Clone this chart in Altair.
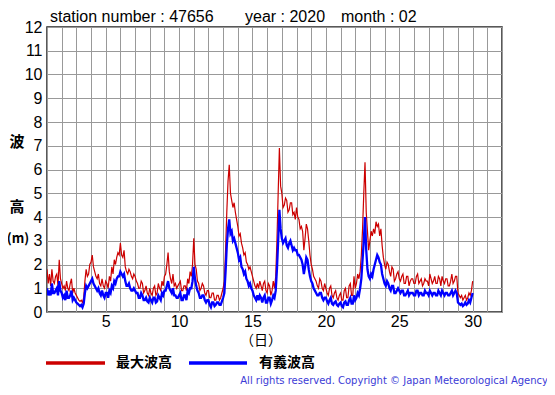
import altair as alt
import pandas as pd

# ---- data (2-hourly readings, day 1 00h .. day 30 00h) ----
steps_per_day = 12
first_day = 1

max_wave = [
    1.8, 1.2, 1.6, 1.1, 1.8, 1.3, 1.2, 1.5, 1.6, 1.1, 2.2, 1.4,
    1.2, 1.0, 1.1, 0.9, 1.3, 1.0, 0.9, 1.2, 1.4, 0.8, 1.0, 0.8,
    0.7, 0.6, 0.5, 0.45, 0.5, 0.4, 0.6, 1.3, 1.8, 1.5, 1.6, 2.0,
    2.1, 2.4, 1.9, 1.7, 1.5, 1.4, 1.6, 1.2, 1.1, 1.4, 1.1, 1.0,
    1.3, 1.2, 1.0, 1.5, 1.3, 1.9, 1.6, 2.2, 2.0, 2.3, 2.5, 2.4,
    2.9, 2.4, 2.3, 2.6, 1.9, 1.7, 1.6, 1.8, 1.7, 1.5, 1.4, 1.6,
    1.5, 1.3, 1.2, 1.0, 1.0, 1.3, 1.2, 0.8, 0.9, 1.1, 0.8, 0.7,
    1.0, 0.8, 0.7, 1.0, 1.1, 0.7, 0.8, 1.2, 1.0, 0.9, 1.3, 1.1,
    1.5, 1.6, 2.0, 2.5, 1.7, 1.4, 1.2, 1.6, 1.1, 1.2, 1.0, 1.1,
    1.2, 1.3, 0.9, 0.9, 1.1, 1.1, 0.9, 1.4, 1.2, 1.7, 1.5, 2.0,
    3.1, 2.0, 1.8, 1.3, 1.2, 0.9, 1.0, 1.2, 1.1, 0.8, 0.7, 0.9,
    0.9, 0.6, 0.6, 0.8, 0.8, 0.5, 0.5, 0.7, 0.7, 0.5, 0.6, 0.8,
    1.0, 1.3, 2.6, 4.2, 5.5, 6.2, 5.0, 4.7, 4.4, 4.6, 4.2, 3.9,
    3.6, 3.2, 3.3, 2.9, 2.7, 2.4, 2.5, 2.1, 2.0, 1.8, 1.9, 1.7,
    1.5, 1.3, 1.1, 1.0, 1.2, 1.0, 1.3, 1.1, 0.9, 1.2, 1.3, 0.9,
    0.8, 1.2, 1.1, 0.7, 0.9, 1.3, 1.0, 1.5, 3.0, 5.0, 6.9, 5.3,
    5.0, 4.4, 4.5, 4.8, 4.7, 4.2, 4.3, 4.6, 4.6, 4.1, 4.2, 3.9,
    4.4, 4.0, 3.9, 3.5, 3.6, 3.4, 2.6, 3.1, 3.7, 3.5, 3.0, 2.4,
    2.0, 1.8, 1.5, 1.4, 1.3, 1.1, 1.0, 1.4, 1.3, 1.0, 0.9, 1.2,
    1.0, 0.8, 0.7, 1.0, 1.1, 0.7, 0.6, 0.8, 0.9, 0.6, 0.5, 0.7,
    0.8, 0.5, 0.5, 0.9, 1.0, 0.6, 0.6, 1.1, 1.2, 0.7, 0.7, 1.5,
    1.0, 1.2, 1.6, 1.4, 1.7, 2.4, 3.5, 5.0, 6.3, 4.2, 3.4, 2.6,
    3.0, 3.4, 3.2, 3.5, 3.3, 3.8, 3.6, 3.7, 3.2, 3.5, 2.8, 2.3,
    2.0, 1.8, 2.1, 2.0, 1.7, 1.5, 1.9, 1.8, 1.3, 1.4, 1.6, 1.7,
    1.4, 1.3, 1.5, 1.6, 1.2, 1.2, 1.5, 1.5, 1.1, 1.3, 1.4, 1.4,
    1.2, 1.2, 1.5, 1.6, 1.2, 1.3, 1.4, 1.1, 1.2, 1.4, 1.3, 1.3,
    1.1, 1.6, 1.4, 1.2, 1.3, 1.5, 1.2, 1.2, 1.5, 1.4, 1.1, 1.5,
    1.3, 1.2, 1.4, 1.4, 1.1, 1.1, 1.3, 1.6, 1.2, 1.3, 1.5, 1.5,
    0.8, 0.7, 0.6, 0.7, 0.5, 0.6, 0.7, 0.5, 0.6, 0.8, 0.7, 0.9,
    1.3,
]

sig_wave = [
    1.0, 0.7, 0.9, 0.7, 1.2, 0.8, 0.8, 0.9, 1.0, 0.7, 1.3, 0.9,
    0.8, 0.6, 0.7, 0.5, 0.9, 0.6, 0.6, 0.7, 0.9, 0.5, 0.6, 0.5,
    0.4, 0.35, 0.3, 0.25, 0.3, 0.2, 0.35, 0.8, 1.1, 1.0, 1.1, 1.2,
    1.3, 1.4, 1.2, 1.1, 1.0, 0.9, 1.0, 0.8, 0.7, 0.9, 0.7, 0.6,
    0.8, 0.8, 0.6, 0.9, 0.8, 1.1, 1.0, 1.3, 1.2, 1.4, 1.5, 1.5,
    1.7, 1.6, 1.5, 1.6, 1.3, 1.1, 1.1, 1.2, 1.0, 0.9, 0.9, 1.0,
    0.9, 0.8, 0.8, 0.6, 0.6, 0.8, 0.7, 0.5, 0.5, 0.6, 0.45, 0.4,
    0.6, 0.5, 0.4, 0.6, 0.6, 0.4, 0.45, 0.7, 0.6, 0.5, 0.8, 0.7,
    0.9, 0.9, 1.1, 1.3, 1.0, 0.9, 0.8, 1.0, 0.7, 0.7, 0.6, 0.6,
    0.7, 0.8, 0.5, 0.5, 0.7, 0.7, 0.5, 0.9, 0.8, 1.0, 1.0, 1.3,
    1.9, 1.4, 1.1, 0.9, 0.8, 0.6, 0.6, 0.7, 0.7, 0.5, 0.4, 0.5,
    0.5, 0.3, 0.2, 0.4, 0.4, 0.25, 0.3, 0.4, 0.4, 0.3, 0.3, 0.45,
    0.6, 0.8, 1.7, 2.8, 3.5, 3.9, 3.3, 3.4, 3.0, 3.1, 2.9, 2.7,
    2.5, 2.2, 2.3, 1.9, 1.8, 1.6, 1.7, 1.4, 1.3, 1.1, 1.2, 1.0,
    0.9, 0.7, 0.6, 0.5, 0.7, 0.5, 0.7, 0.6, 0.4, 0.6, 0.7, 0.4,
    0.4, 0.6, 0.6, 0.35, 0.5, 0.7, 0.6, 0.9, 1.8, 3.0, 4.3, 3.5,
    3.1, 2.9, 3.0, 3.1, 2.8, 2.7, 2.9, 3.0, 2.8, 2.6, 2.7, 2.6,
    2.6, 2.4, 2.4, 2.3, 2.2, 2.0, 1.6, 1.9, 2.3, 2.2, 1.8, 1.5,
    1.3, 1.2, 1.0, 0.9, 0.8, 0.7, 0.7, 0.8, 0.8, 0.6, 0.5, 0.6,
    0.6, 0.45, 0.35, 0.5, 0.6, 0.35, 0.3, 0.4, 0.45, 0.3, 0.25, 0.35,
    0.4, 0.25, 0.2, 0.4, 0.45, 0.3, 0.3, 0.5, 0.6, 0.35, 0.35, 0.7,
    0.5, 0.6, 0.8, 0.7, 1.0, 1.4, 2.2, 3.0, 4.0, 2.6, 1.8, 1.5,
    1.4, 1.6, 1.5, 1.8, 2.0, 2.2, 2.4, 2.3, 2.1, 2.0, 1.6, 1.4,
    1.2, 1.1, 1.3, 1.2, 1.0, 0.9, 1.1, 1.1, 0.8, 0.8, 0.9, 1.0,
    0.9, 0.8, 0.9, 0.9, 0.7, 0.7, 0.8, 0.9, 0.7, 0.8, 0.8, 0.8,
    0.7, 0.7, 0.9, 0.9, 0.7, 0.8, 0.8, 0.7, 0.7, 0.9, 0.8, 0.8,
    0.7, 0.9, 0.8, 0.7, 0.8, 0.8, 0.7, 0.7, 0.9, 0.8, 0.7, 0.9,
    0.8, 0.7, 0.8, 0.8, 0.7, 0.7, 0.8, 0.9, 0.7, 0.8, 0.9, 0.8,
    0.4, 0.35, 0.3, 0.35, 0.25, 0.3, 0.4, 0.3, 0.35, 0.5, 0.4, 0.6,
    0.8,
]

x_grid_days = list(range(1, 33))
y_grid_vals = list(range(0, 13))

series_names = ["最大波高", "有義波高"]
series_colors = ["#cc0000", "#0000ff"]

title_parts = ["station number : 47656", "year : 2020", "month : 02"]
copyright_text = "All rights reserved. Copyright © Japan Meteorological Agency"

# ---- tables ----
df_max = pd.DataFrame({
    "day": [first_day + i / steps_per_day for i in range(len(max_wave))],
    "h": max_wave,
})
df_sig = pd.DataFrame({
    "day": [first_day + i / steps_per_day for i in range(len(sig_wave))],
    "h": sig_wave,
})

LATIN = "Liberation Sans"
CJK = "Noto Sans CJK JP"

x_enc = alt.X(
    "day:Q",
    scale=alt.Scale(domain=[1, 32], nice=False, zero=False),
    axis=alt.Axis(
        values=x_grid_days,
        labelExpr="datum.value % 5 == 0 ? datum.label : ''",
        grid=True, gridColor="#999999", gridWidth=1,
        ticks=False, domain=False, title=None,
        labelFont=LATIN, labelFontSize=16, labelColor="#000",
        labelPadding=1, labelOverlap=False, labelFlush=False,
    ),
)
y_enc = alt.Y(
    "h:Q",
    scale=alt.Scale(domain=[0, 12], nice=False),
    axis=alt.Axis(
        values=y_grid_vals,
        grid=True, gridColor="#999999", gridWidth=1,
        ticks=False, domain=False, title=None,
        labelFont=LATIN, labelFontSize=16, labelColor="#000",
        labelPadding=5, labelOverlap=False, labelFlush=False,
    ),
)

red_line = alt.Chart(df_max).mark_line(
    color=series_colors[0], strokeWidth=1.2, clip=True
).encode(x=x_enc, y=y_enc)

blue_line = alt.Chart(df_sig).mark_line(
    color=series_colors[1], strokeWidth=2.3, clip=True
).encode(x=x_enc, y=y_enc)

one = alt.Data(values=[{"k": 0}])


def label(text, x, y, font=LATIN, size=16, weight="normal", align="left",
          color="#000"):
    return alt.Chart(one).mark_text(
        font=font, fontSize=size, fontWeight=weight, align=align,
        baseline="middle", color=color,
    ).encode(x=alt.value(x), y=alt.value(y), text=alt.value(text))


def legend_line(x1, x2, y, color):
    return alt.Chart(one).mark_rule(color=color, strokeWidth=3.5).encode(
        x=alt.value(x1), x2=alt.value(x2), y=alt.value(y)
    )


annotations = [
    label(title_parts[0], 3, -10),
    label(title_parts[1], 198, -10),
    label(title_parts[2], 294, -10),
    label("波", -30, 115, font=CJK, size=15, weight="bold", align="center"),
    label("高", -30, 180, font=CJK, size=15, weight="bold", align="center"),
    label("(m)", -29, 212, font=CJK, size=13, weight="bold", align="center"),
    label("（日）", 214, 314, font=CJK, size=14, align="center"),
    legend_line(-1, 58, 336, series_colors[0]),
    label(series_names[0], 69, 336, font=CJK, size=14, weight="bold"),
    legend_line(142, 200, 336, series_colors[1]),
    label(series_names[1], 212, 336, font=CJK, size=14, weight="bold"),
    label(copyright_text, 501, 354, font="DejaVu Sans", size=10,
          align="right", color="#3b3bd6"),
]

chart = alt.layer(red_line, blue_line, *annotations).properties(
    width=455,
    height=285,
    autosize=alt.AutoSizeParams(type="none"),
    padding={"left": 39, "top": 19, "right": 45, "bottom": 75},
    background="white",
).configure_view(
    stroke="#222222", strokeWidth=1.5
).configure_axis(labelOverlap=False)

chart.save("out.html", embed_options={"renderer": "svg", "actions": False})
